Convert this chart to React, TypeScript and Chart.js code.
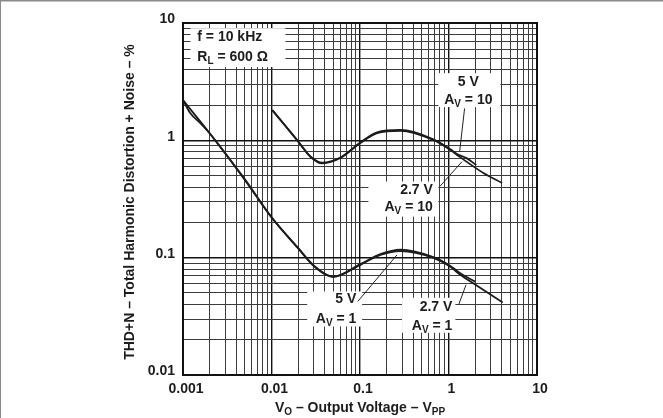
import React, { useEffect, useRef } from 'react';
import { Chart, registerables } from 'chart.js';

Chart.register(...registerables);

// ---- tick labels ----
const X_TICK_LABELS = ['0.001', '0.01', '0.1', '1', '10'];
const Y_TICK_LABELS = ['0.01', '0.1', '1', '10'];

// ---- series (Vo in Vpp, THD+N in %) ----
const AV1_5V_X = [0.001, 0.002, 0.005, 0.01, 0.02, 0.03, 0.05, 0.101, 0.17, 0.286, 0.674, 1.05, 1.36, 2.0, 4.1];
const AV1_5V_Y = [2.2, 1.15, 0.46, 0.22, 0.12, 0.085, 0.0687, 0.0869, 0.1056, 0.114, 0.0996, 0.0835, 0.0714, 0.059, 0.0415];

const AV1_27V_X = [0.001, 0.0012, 0.0016, 0.002, 0.005, 0.01, 0.02, 0.03, 0.05, 0.101, 0.17, 0.286, 0.674, 1.05, 1.36, 2.0];
const AV1_27V_Y = [2.2, 1.72, 1.38, 1.15, 0.465, 0.222, 0.121, 0.086, 0.069, 0.088, 0.107, 0.117, 0.101, 0.085, 0.0735, 0.0625];

const AV10_5V_X = [0.0102, 0.0195, 0.0275, 0.0373, 0.06, 0.101, 0.156, 0.286, 0.674, 1.05, 1.25, 2.48, 4.03];
const AV10_5V_Y = [1.81, 1.006, 0.725, 0.637, 0.707, 0.948, 1.153, 1.207, 1.006, 0.827, 0.75, 0.527, 0.433];

const AV10_27V_X = [0.0102, 0.0195, 0.0275, 0.0373, 0.06, 0.101, 0.156, 0.286, 0.674, 1.05, 1.25, 1.6, 2.06];
const AV10_27V_Y = [1.81, 1.0, 0.73, 0.645, 0.715, 0.96, 1.17, 1.225, 1.02, 0.84, 0.765, 0.705, 0.616];

// ---- annotation layout (data coordinates) ----
type Run = { t: string; sub?: boolean };
type Note = {
  box: [number, number, number, number];
  textX: number;
  align: 'left' | 'right' | 'center';
  lines: { y: number; runs: Run[] }[];
  pointer?: [[number, number], [number, number]];
};

const NOTES: Note[] = [
  {
    box: [0.001216, 0.01437, 9.03, 4.21],
    textX: 0.00145,
    align: 'left',
    lines: [
      { y: 7.57, runs: [{ t: 'f = 10 kHz' }] },
      { y: 5.12, runs: [{ t: 'R' }, { t: 'L', sub: true }, { t: ' = 600 Ω' }] },
    ],
  },
  {
    box: [0.767, 3.85, 3.74, 1.92],
    textX: 1.675,
    align: 'center',
    lines: [
      { y: 3.15, runs: [{ t: '5 V' }] },
      { y: 2.2, runs: [{ t: 'A' }, { t: 'V', sub: true }, { t: ' = 10' }] },
    ],
    pointer: [[1.52, 1.87], [1.336, 0.8]],
  },
  {
    box: [0.1245, 0.767, 0.445, 0.224],
    textX: 0.665,
    align: 'right',
    lines: [
      { y: 0.378, runs: [{ t: '2.7 V' }] },
      { y: 0.269, runs: [{ t: 'A' }, { t: 'V', sub: true }, { t: ' = 10' }] },
    ],
    pointer: [[0.794, 0.403], [1.42, 0.658]],
  },
  {
    box: [0.0253, 0.1056, 0.0515, 0.0259],
    textX: 0.091,
    align: 'right',
    lines: [
      { y: 0.0446, runs: [{ t: '5 V' }] },
      { y: 0.03, runs: [{ t: 'A' }, { t: 'V', sub: true }, { t: ' = 1' }] },
    ],
    pointer: [[0.0942, 0.0423], [0.262, 0.1056]],
  },
  {
    box: [0.2987, 1.195, 0.0455, 0.0229],
    textX: 1.105,
    align: 'right',
    lines: [
      { y: 0.0379, runs: [{ t: '2.7 V' }] },
      { y: 0.0259, runs: [{ t: 'A' }, { t: 'V', sub: true }, { t: ' = 1' }] },
    ],
    pointer: [[1.302, 0.0397], [1.578, 0.0587]],
  },
];

const X_TITLE: Run[] = [{ t: 'V' }, { t: 'O', sub: true }, { t: ' – Output Voltage – V' }, { t: 'PP', sub: true }];
const Y_TITLE: Run[] = [{ t: 'THD+N – Total Harmonic Distortion + Noise – %' }];

const FAMILY = '"Liberation Sans", Arial, Helvetica, sans-serif';
const MAIN_FONT = `bold 14px ${FAMILY}`;
const SUB_FONT = `bold 10px ${FAMILY}`;
const INK = '#1c1c1c';

function drawRuns(ctx: CanvasRenderingContext2D, runs: Run[], x: number, y: number, align: 'left' | 'right' | 'center') {
  let w = 0;
  for (const r of runs) {
    ctx.font = r.sub ? SUB_FONT : MAIN_FONT;
    w += ctx.measureText(r.t).width;
  }
  let cx = align === 'left' ? x : align === 'right' ? x - w : x - w / 2;
  ctx.textBaseline = 'middle';
  ctx.textAlign = 'left';
  for (const r of runs) {
    ctx.font = r.sub ? SUB_FONT : MAIN_FONT;
    ctx.fillText(r.t, cx, r.sub ? y + 4 : y);
    cx += ctx.measureText(r.t).width;
  }
}

function decadeTicks(labels: string[]) {
  const vals: number[] = [];
  const decades = labels.map(Number);
  for (let i = 0; i < decades.length; i++) {
    if (i === decades.length - 1) {
      vals.push(decades[i]);
    } else {
      for (let m = 1; m <= 9; m++) vals.push(+(decades[i] * m).toPrecision(6));
    }
  }
  return vals;
}

function labelFor(labels: string[], value: number) {
  const hit = labels.find((l) => Math.abs(Number(l) - value) / value < 1e-6);
  return hit ?? '';
}

function isDecade(labels: string[], value: number) {
  return labelFor(labels, value) !== '';
}

const pts = (xs: number[], ys: number[]) => xs.map((x, i) => ({ x, y: ys[i] }));

const overlay = {
  id: 'overlay',
  beforeDatasetsDraw(chart: any) {
    const ctx: CanvasRenderingContext2D = chart.ctx;
    const xs = chart.scales.x;
    const ys = chart.scales.y;
    const a = chart.chartArea;
    ctx.save();
    // frame
    ctx.strokeStyle = '#111';
    ctx.lineWidth = 2;
    ctx.strokeRect(a.left, a.top, a.right - a.left, a.bottom - a.top);
    // label boxes + text
    for (const n of NOTES) {
      const x0 = xs.getPixelForValue(n.box[0]);
      const x1 = xs.getPixelForValue(n.box[1]);
      const y0 = ys.getPixelForValue(n.box[2]);
      const y1 = ys.getPixelForValue(n.box[3]);
      ctx.fillStyle = '#fff';
      ctx.fillRect(x0, y0, x1 - x0, y1 - y0);
      ctx.fillStyle = INK;
      const tx = xs.getPixelForValue(n.textX);
      for (const l of n.lines) drawRuns(ctx, l.runs, tx, ys.getPixelForValue(l.y), n.align);
      if (n.pointer) {
        ctx.strokeStyle = '#222';
        ctx.lineWidth = 1;
        ctx.beginPath();
        ctx.moveTo(xs.getPixelForValue(n.pointer[0][0]), ys.getPixelForValue(n.pointer[0][1]));
        ctx.lineTo(xs.getPixelForValue(n.pointer[1][0]), ys.getPixelForValue(n.pointer[1][1]));
        ctx.stroke();
      }
    }
    // axis titles
    ctx.fillStyle = INK;
    drawRuns(ctx, X_TITLE, (a.left + a.right) / 2, a.bottom + 33, 'center');
    ctx.translate(a.left - 53, (a.top + a.bottom) / 2 + 3);
    ctx.rotate(-Math.PI / 2);
    drawRuns(ctx, Y_TITLE, 0, 0, 'center');
    ctx.restore();
    // outer page frame (top & left)
    ctx.save();
    ctx.fillStyle = '#8a8a8a';
    ctx.fillRect(0, 0, chart.width, 1.5);
    ctx.fillRect(0, 0, 1, chart.height);
    ctx.restore();
  },
};

export default function App() {
  const ref = useRef<HTMLCanvasElement>(null);
  useEffect(() => {
    const canvas = ref.current!;
    const line = (xs: number[], ys: number[]) => ({
      data: pts(xs, ys),
      borderColor: INK,
      borderWidth: 1.8,
      pointRadius: 0,
      cubicInterpolationMode: 'monotone',
      fill: false,
    });
    const gridColor = (labels: string[]) => (c: any) =>
      c.tick && isDecade(labels, c.tick.value) ? '#111' : '#3c3c3c';
    const gridWidth = (labels: string[]) => (c: any) =>
      c.tick && isDecade(labels, c.tick.value) ? 1.4 : 1;
    const chart = new Chart(canvas, {
      type: 'line',
      data: {
        datasets: [
          line(AV1_5V_X, AV1_5V_Y),
          line(AV1_27V_X, AV1_27V_Y),
          line(AV10_5V_X, AV10_5V_Y),
          line(AV10_27V_X, AV10_27V_Y),
        ] as any,
      },
      options: {
        animation: false,
        responsive: false,
        layout: { padding: { top: 23, right: 126, left: 0, bottom: 0 } },
        plugins: { legend: { display: false }, tooltip: { enabled: false } },
        scales: {
          x: {
            type: 'logarithmic',
            min: Number(X_TICK_LABELS[0]),
            max: Number(X_TICK_LABELS[X_TICK_LABELS.length - 1]),
            afterBuildTicks: (s: any) => {
              s.ticks = decadeTicks(X_TICK_LABELS).map((v) => ({ value: v }));
            },
            afterFit: (s: any) => {
              s.height = 43;
            },
            border: { display: false },
            grid: {
              drawTicks: false,
              color: gridColor(X_TICK_LABELS),
              lineWidth: gridWidth(X_TICK_LABELS),
            },
            ticks: {
              autoSkip: false,
              maxRotation: 0,
              padding: 6,
              labelOffset: 3,
              color: INK,
              font: { family: FAMILY, size: 14, weight: 'bold' },
              callback: (v: any) => labelFor(X_TICK_LABELS, Number(v)),
            },
          },
          y: {
            type: 'logarithmic',
            min: Number(Y_TICK_LABELS[0]),
            max: Number(Y_TICK_LABELS[Y_TICK_LABELS.length - 1]),
            afterBuildTicks: (s: any) => {
              s.ticks = decadeTicks(Y_TICK_LABELS).map((v) => ({ value: v }));
            },
            afterFit: (s: any) => {
              s.width = 183;
            },
            border: { display: false },
            grid: {
              drawTicks: false,
              color: gridColor(Y_TICK_LABELS),
              lineWidth: gridWidth(Y_TICK_LABELS),
            },
            ticks: {
              autoSkip: false,
              padding: 8,
              labelOffset: -3.5,
              color: INK,
              font: { family: FAMILY, size: 14, weight: 'bold' },
              callback: (v: any) => labelFor(Y_TICK_LABELS, Number(v)),
            },
          },
        },
      } as any,
      plugins: [overlay],
    });
    return () => chart.destroy();
  }, []);
  return (
    <div style={{ position: 'fixed', left: 0, top: 0, width: 663, height: 418, background: '#fff' }}>
      <canvas ref={ref} width={663} height={418} style={{ width: 663, height: 418, display: 'block' }} />
    </div>
  );
}
